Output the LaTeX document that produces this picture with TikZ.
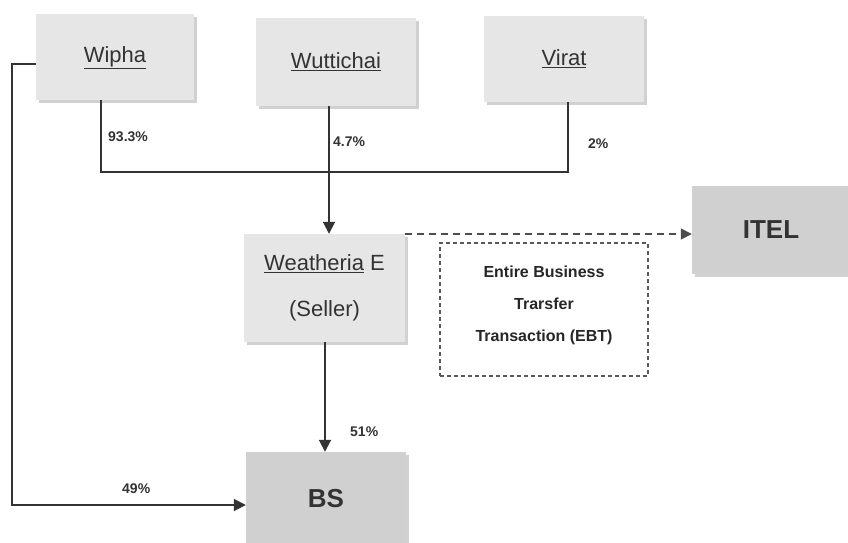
\documentclass[tikz,border=0pt]{standalone}
\usepackage{fontspec}
\setmainfont{Liberation Sans}
\usetikzlibrary{arrows.meta,shadows}

\definecolor{boxlight}{HTML}{E6E6E6}
\definecolor{boxdark}{HTML}{D0D0D0}
\definecolor{linecol}{HTML}{333333}

\tikzset{
  entity/.style={rectangle, fill=boxlight, draw=none, inner sep=0pt,
    drop shadow={shadow xshift=3pt, shadow yshift=-3pt, fill=black!30, opacity=0.6},
    font=\fontsize{22}{26}\selectfont, text=black!80},
  target/.style={entity, fill=boxdark, font=\bfseries\fontsize{26}{30}\selectfont},
  link/.style={draw=linecol, line width=1.8pt},
  tip/.style={-{Triangle[length=12pt,width=12pt]}},
  share/.style={font=\bfseries\fontsize{14}{16}\selectfont, text=black!80, inner sep=0pt},
  ebtbox/.style={rectangle, draw=black!65, dashed, dash pattern=on 4pt off 3pt,
    line width=1.4pt, inner sep=0pt},
}

\begin{document}
\begin{tikzpicture}[x=1pt,y=-1pt]
  \useasboundingbox (0,0) rectangle (848,542);

  % owners
  \node[entity, minimum width=158pt, minimum height=86pt] (wipha) at (115,57) {};
  \node[font=\fontsize{22}{26}\selectfont, text=black!80] (wiphatext) at (115,58) {\underline{Wipha}};
  \node[entity, minimum width=160pt, minimum height=88pt] (wutti) at (336,62) {\underline{Wuttichai}};
  \node[entity, minimum width=160pt, minimum height=86pt] (virat) at (564,59) {\underline{Virat}};

  % seller, buyer and the subsidiary
  \node[entity, minimum width=161pt, minimum height=108pt, align=center,
        font=\fontsize{22}{46}\selectfont] (seller) at (324.5,288) {\underline{Weatheria} E\\(Seller)};
  \node[target, minimum width=158pt, minimum height=88pt] (itel) at (771,230) {ITEL};
  \node[target, minimum width=160pt, minimum height=94pt] (bs) at (326,499) {BS};

  % transaction note
  \node[ebtbox, minimum width=208pt, minimum height=133pt] (ebt) at (544,309.5) {};
  \node[font=\bfseries\fontsize{16}{32}\selectfont, text=black!85, align=center] (ebttext)
    at (544,305) {Entire Business\\Trarsfer\\Transaction (EBT)};

  % helper points
  \coordinate (wl) at (12,64);
  \coordinate (merge) at (101,172);
  \coordinate (vmerge) at (568,172);

  % shareholdings into the seller
  \draw[link] (wipha.south -| merge) -- (merge) -- (vmerge) -- (virat.south -| vmerge);
  \draw[link, tip] (wutti.south -| 329,0) -- (seller.north -| 329,0);

  % seller and Wipha into BS
  \draw[link, tip] (seller.south -| 325,0) -- (bs.north -| 325,0);
  \draw[link, tip] (wipha.west |- wl) -- (wl) -- (wl |- 0,505) -- (bs.west |- 0,505);

  % business transfer
  \draw[draw=black!70, line width=1.6pt, dashed, dash pattern=on 7pt off 5pt,
        -{Triangle[length=11pt,width=11pt]}] (seller.north east |- 0,234) -- (itel.west |- 0,234);

  % percentages
  \node[share, anchor=west] (p1) at (108,137) {93.3\%};
  \node[share, anchor=west] (p2) at (333,142) {4.7\%};
  \node[share, anchor=west] (p3) at (588,144) {2\%};
  \node[share, anchor=west] (p4) at (350,432) {51\%};
  \node[share, anchor=west] (p5) at (122,489) {49\%};
\end{tikzpicture}
\end{document}
